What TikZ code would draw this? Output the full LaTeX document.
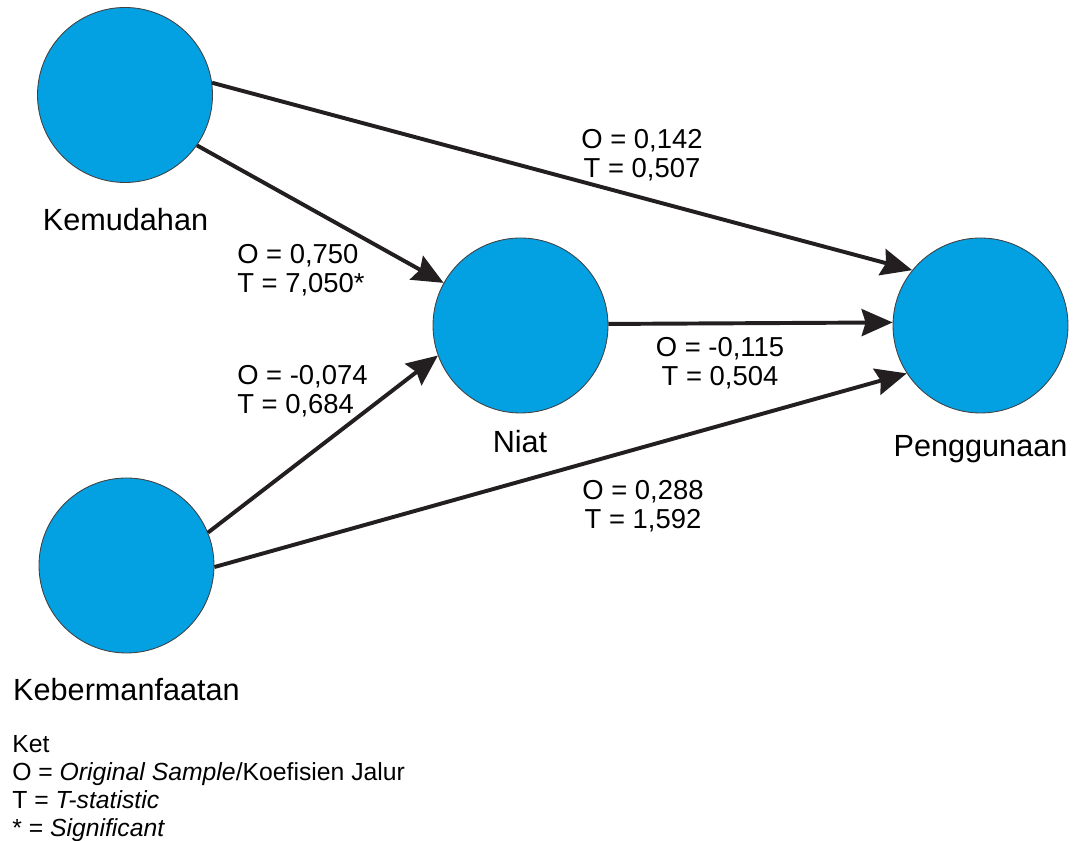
\documentclass[tikz,border=0pt]{standalone}
\usepackage{fontspec}
\setmainfont{Liberation Sans}
\usetikzlibrary{arrows.meta}
\definecolor{varblue}{RGB}{3,160,226}
\definecolor{arrowdark}{RGB}{35,31,32}
\begin{document}
\begin{tikzpicture}[
        var/.style={circle,fill=varblue,draw=black!75,line width=0.6pt,minimum size=4.375cm,inner sep=0pt},
        varname/.style={inner sep=0pt,anchor=north,font=\fontsize{21.8}{24}\selectfont},
        coef/.style={inner sep=0pt,font=\fontsize{19.5}{20.6}\selectfont},
        effect/.style={draw=arrowdark,line width=2.8pt,-{Stealth[length=0.775cm,width=0.675cm,inset=0.1cm]}}
    ]
        \useasboundingbox(0,0)rectangle(26.825,21.025);
        \node[var](1)at(3.125,18.65){};
        \node[var](2)at(13.0125,12.8875){};
        \node[var](3)at(24.5125,12.8875){};
        \node[var](4)at(3.1625,6.8875){};
        \node[varname](5)at(3.1375,15.825){Kemudahan};
        \node[varname](6)at(13.0,10.275){Niat};
        \node[varname](7)at(24.5125,10.15){Penggunaan};
        \node[varname](8)at(3.1625,4.075){Kebermanfaatan};
        \draw[effect](1.8.5)--(3.141.8);
        \draw[effect](1.-35.3)--(2.151.3);
        \draw[effect](4.22.6)--(2.-160.5);
        \draw[effect](4.-1)--(3.-147.8);
        \draw[effect](2.1.6)--(3.178.4);
        \node[coef,anchor=north,align=center](9)at(16.05,17.8){O = 0,142\\T = 0,507};
        \node[coef,anchor=north west,align=left](10)at(5.925,14.925){O = 0,750\\T = 7,050*};
        \node[coef,anchor=north west,align=left](11)at(5.925,11.9){O = -0,074\\T = 0,684};
        \node[coef,anchor=north,align=center](12)at(18.0,12.6){O = -0,115\\T = 0,504};
        \node[coef,anchor=north,align=center](13)at(16.075,9.025){O = 0,288\\T = 1,592};
        \node[inner sep=0pt,anchor=north west,align=left,font=\fontsize{17.6}{19.9}\selectfont](14)at(0.3,2.65){Ket\\O = \textit{Original Sample}/Koefisien Jalur\\T = \textit{T-statistic}\\* = \textit{Significant}};
    \end{tikzpicture}
\end{document}
